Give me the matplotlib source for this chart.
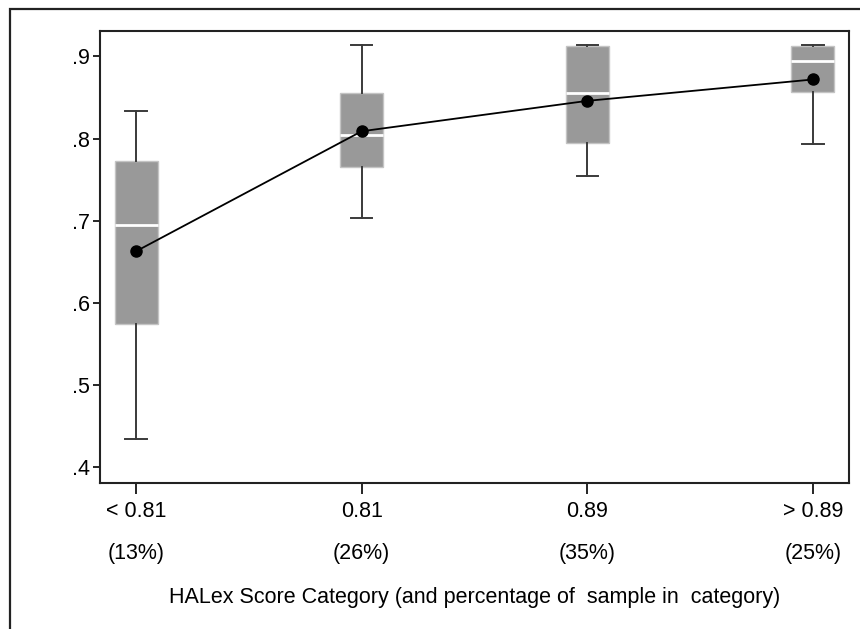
import numpy as np
import matplotlib
matplotlib.use('Agg')
import matplotlib.pyplot as plt
from matplotlib.patches import Rectangle

plt.rcParams['font.family'] = ['Liberation Sans', 'DejaVu Sans']

categorias = ['< 0.81', '0.81', '0.89', '> 0.89']
porcentajes = ['(13%)', '(26%)', '(35%)', '(25%)']
bigote_inf = [0.434, 0.703, 0.754, 0.793]
q1 = [0.574, 0.766, 0.795, 0.857]
mediana = [0.695, 0.804, 0.856, 0.895]
q3 = [0.773, 0.855, 0.913, 0.913]
bigote_sup = [0.834, 0.914, 0.914, 0.914]
medias = [0.663, 0.809, 0.846, 0.872]

pos = np.arange(1, len(categorias)+1)
stats = []
for i in range(len(categorias)):
    stats.append({'whislo': bigote_inf[i], 'q1': q1[i], 'med': mediana[i],
                  'q3': q3[i], 'whishi': bigote_sup[i], 'fliers': []})

fig = plt.figure(figsize=(8.6, 6.29), dpi=100)
ax = fig.add_axes([100/860, 1-483/629, 749/860, 452/629])

ax.bxp(stats, positions=pos, widths=0.19, patch_artist=True, showfliers=False,
       boxprops=dict(facecolor='#999999', edgecolor='#c4c4c4', linewidth=1),
       medianprops=dict(color='white', linewidth=2),
       whiskerprops=dict(color='#3a3a3a', linewidth=1.4),
       capprops=dict(color='#3a3a3a', linewidth=1.4), capwidths=0.095)
ax.plot(pos, medias, '-o', color='black', linewidth=1.3, markersize=8, zorder=5)

ax.set_xlim(0.84, 4.16)
ax.set_ylim(0.381, 0.931)
ax.set_yticks([0.4, 0.5, 0.6, 0.7, 0.8, 0.9])
ax.set_yticklabels(['.4', '.5', '.6', '.7', '.8', '.9'])
ax.set_xticks(pos)
ax.set_xticklabels(categorias)
ax.tick_params(axis='y', length=5, width=1.2, labelsize=15.5, pad=2, colors='black')
ax.tick_params(axis='x', length=8, width=1.2, labelsize=15.5, pad=5, colors='black')
for s in ax.spines.values():
    s.set_linewidth(1.5)
    s.set_color('#222222')

trans = ax.get_xaxis_transform()
for p, txt in zip(pos, porcentajes):
    ax.text(p, -0.155, txt, transform=trans, ha='center', va='center', fontsize=15.5)

ax.text(0.5, -0.253, 'HALex Score Category (and percentage of  sample in  category)',
        transform=ax.transAxes, ha='center', va='center', fontsize=15.5)

# marco exterior
fig.patches.append(Rectangle((10/860, -0.1), 1.2, 1-9/629+0.1, transform=fig.transFigure,
                             fill=False, edgecolor='#222222', linewidth=1.6))

fig.savefig('out.png', dpi=100)
